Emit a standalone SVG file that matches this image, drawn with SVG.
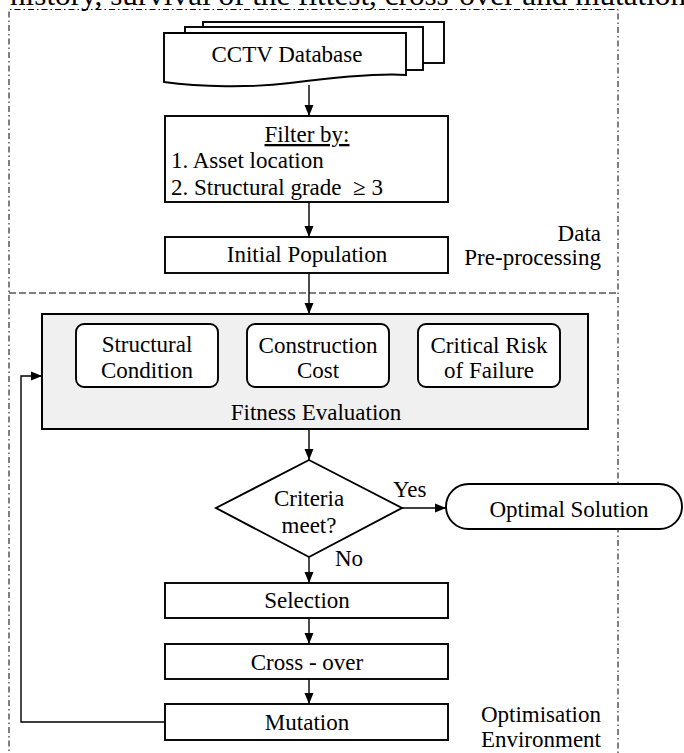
<svg xmlns="http://www.w3.org/2000/svg" width="684" height="753" viewBox="0 0 684 753" font-family="'Liberation Serif', 'Times New Roman', serif" font-size="23">
<defs>
<marker id="ah" markerUnits="userSpaceOnUse" markerWidth="12" markerHeight="10" refX="11" refY="5" orient="auto">
<path d="M0,0.5 L11,5 L0,9.5 Z" fill="#000"/>
</marker>
<style>
.c{text-anchor:middle}
.e{text-anchor:end}
.box{fill:#fff;stroke:#000;stroke-width:1.9}
.rb{fill:#fff;stroke:#000;stroke-width:1.9}
.conn{fill:none;stroke:#000;stroke-width:1.4;marker-end:url(#ah)}
.dd{fill:none;stroke:#000;stroke-width:1;stroke-dasharray:6 3 1.5 3}
.ds{fill:none;stroke:#000;stroke-width:1;stroke-dasharray:7 3}
</style>
</defs>
<rect width="684" height="753" fill="#fff"/>
<text x="10" y="4.5" font-size="30" textLength="676" lengthAdjust="spacingAndGlyphs">history, survival of the fittest, cross-over and mutation</text>

<g id="regions">
<path class="dd" d="M9,760 V9.5 H618 V760"/>
<path class="ds" d="M9,293 H618"/>
<text class="e" x="601" y="241">Data</text>
<text class="e" x="601" y="265">Pre-processing</text>
<text class="e" x="601" y="722">Optimisation</text>
<text class="e" x="601" y="747">Environment</text>
</g>

<g id="cctv">
<rect class="box" x="203" y="22" width="241" height="41"/>
<rect class="box" x="185" y="27" width="238" height="43"/>
<path class="box" d="M164,33 H406 V75 C380,73 330,78 290,83 C250,88 200,87 164,82 Z"/>
<text class="c" x="287" y="62">CCTV Database</text>
</g>

<g id="filter">
<rect class="box" x="165" y="116" width="283" height="86"/>
<text class="c" x="307" y="142" text-decoration="underline">Filter by:</text>
<text x="171" y="168">1. Asset location</text>
<text x="171" y="195" xml:space="preserve">2. Structural grade  ≥ 3</text>
</g>

<g id="initial">
<rect class="box" x="165" y="237" width="283" height="36"/>
<text class="c" x="307" y="262">Initial Population</text>
</g>

<g id="fitness">
<rect x="42" y="314" width="546" height="115" fill="#f0f0f0" stroke="#000" stroke-width="2"/>
<text class="c" x="316" y="420">Fitness Evaluation</text>
</g>
<g id="structural">
<rect class="rb" x="76" y="324" width="142" height="63" rx="8"/>
<text class="c" x="147" y="352">Structural</text>
<text class="c" x="147" y="378">Condition</text>
</g>
<g id="cost">
<rect class="rb" x="247" y="324" width="142" height="63" rx="8"/>
<text class="c" x="318" y="353">Construction</text>
<text class="c" x="318" y="378">Cost</text>
</g>
<g id="risk">
<rect class="rb" x="418" y="324" width="142" height="63" rx="8"/>
<text class="c" x="489" y="353">Critical Risk</text>
<text class="c" x="489" y="378">of Failure</text>
</g>

<g id="criteria">
<path class="box" d="M309,460 L402,508 L309,557 L216,508 Z"/>
<text class="c" x="309" y="506">Criteria</text>
<text class="c" x="309" y="533">meet?</text>
</g>

<g id="optimal">
<rect class="box" x="446" y="484" width="236" height="45" rx="22.5"/>
<text class="c" x="569" y="517">Optimal Solution</text>
</g>

<g id="selection">
<rect class="box" x="165" y="583" width="283" height="35"/>
<text class="c" x="307" y="608">Selection</text>
</g>
<g id="crossover">
<rect class="box" x="165" y="644" width="283" height="35"/>
<text class="c" x="307" y="670">Cross - over</text>
</g>
<g id="mutation">
<rect class="box" x="165" y="704" width="283" height="36"/>
<text class="c" x="307" y="730">Mutation</text>
</g>

<g id="connectors">
<path class="conn" d="M309,85 V116"/>
<path class="conn" d="M309,202 V237"/>
<path class="conn" d="M309,273 V314"/>
<path class="conn" d="M309,429 V460"/>
<path class="conn" d="M402,508 H446"/>
<path class="conn" d="M309,557 V583"/>
<path class="conn" d="M309,618 V644"/>
<path class="conn" d="M309,679 V704"/>
<path class="conn" d="M165,722 H21 V376 H42"/>
<text x="393" y="497">Yes</text>
<text x="335" y="566">No</text>
</g>
</svg>
